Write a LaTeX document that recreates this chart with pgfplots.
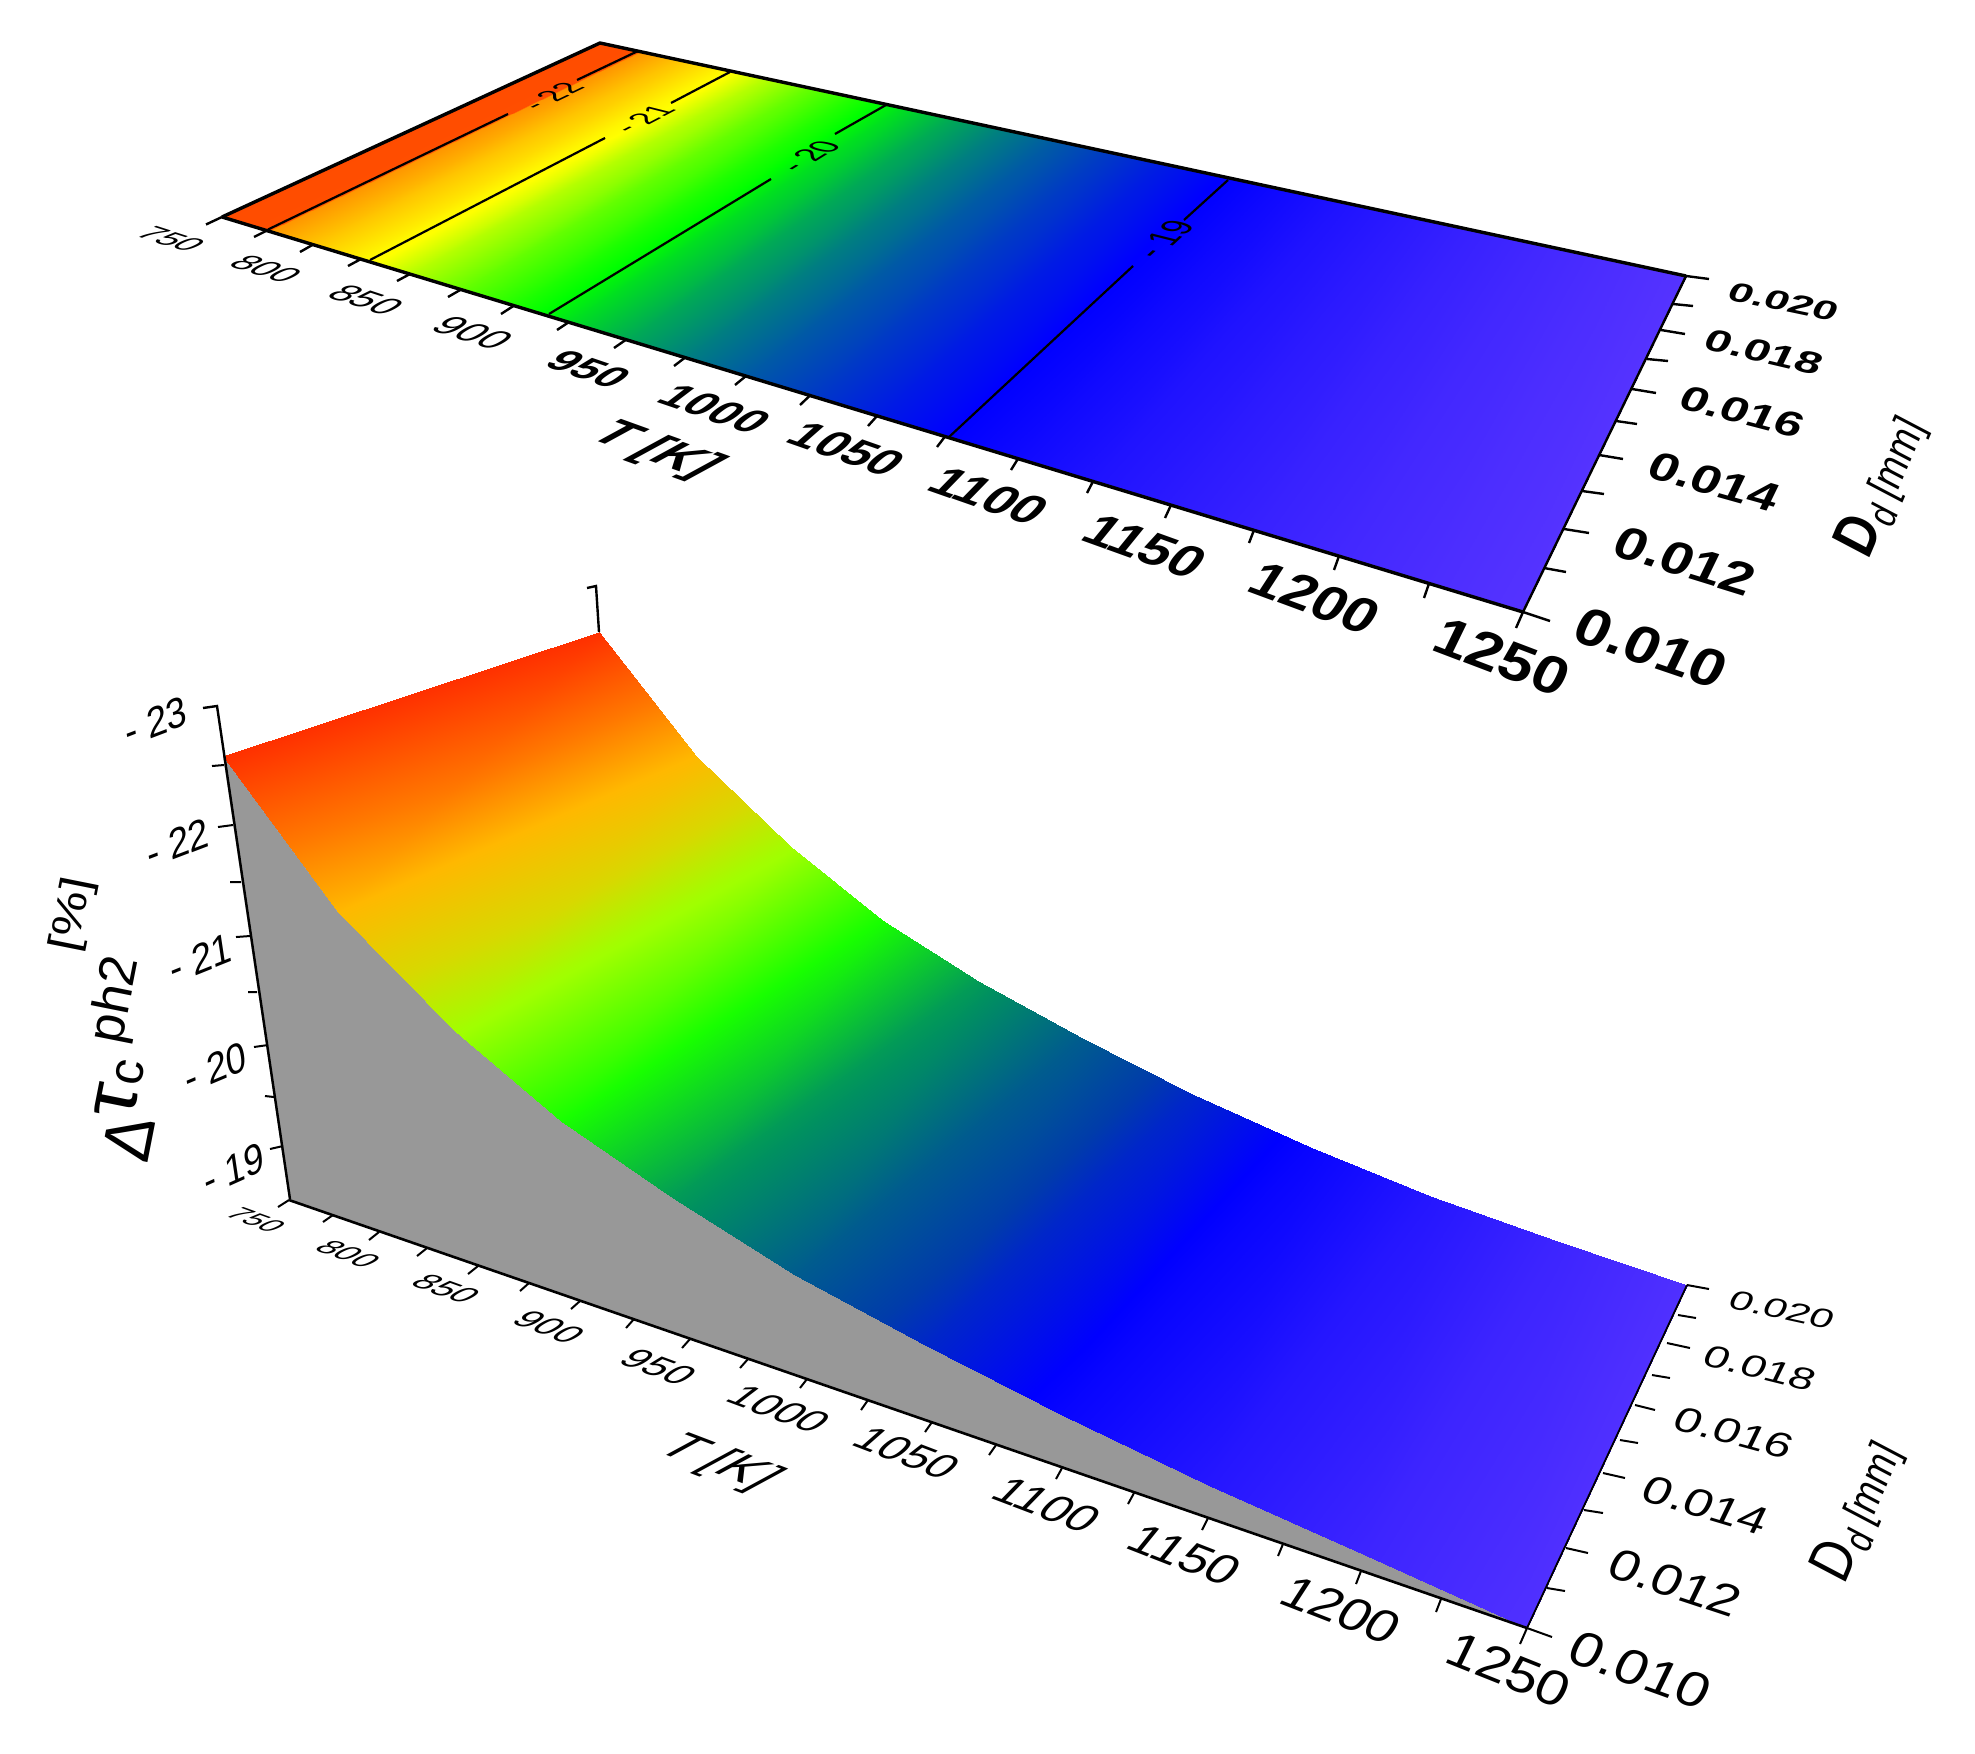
\documentclass[border=0pt]{standalone}
\usepackage{pgfplots}
\pgfplotsset{compat=1.18}
\usepgfplotslibrary{patchplots}
\usepackage{fontspec}
\setmainfont{Liberation Sans}
\newcommand\lab[9]{%
\pgfmathsetmacro\ma{#3/20*#4/veclen(#4,#5)}%
\pgfmathsetmacro\mb{-#3/20*#5/veclen(#4,#5)}%
\pgfmathsetmacro\mc{#6/20*#7/veclen(#7,#8)}%
\pgfmathsetmacro\md{-#6/20*#8/veclen(#7,#8)}%
\node[cm={\ma,\mb,\mc,\md,(0,0)},inner sep=0pt] at ({#1*0.5pt},{(1753-#2)*0.5pt}) {#9};}
\pgfplotsset{px/.style={scale only axis,width=987.5pt,height=876.5pt,xmin=0,xmax=1975,ymin=0,ymax=1753,y dir=reverse,axis lines=none,clip=false,point meta min=-23,point meta max=-18,anchor=south west,at={(0pt,0pt)}}}
\begin{document}
\begin{tikzpicture}
\path[use as bounding box] (0,0) rectangle (987.5pt,876.5pt);
% ---------- upper map
\begin{axis}[px,colormap={topmap}{rgb255(0)=(255,75,0) rgb255(98)=(255,78,0) rgb255(100)=(255,150,0) rgb255(200)=(255,255,0) rgb255(295)=(0,255,0) rgb255(400)=(0,0,255) rgb255(455)=(85,51,255) rgb255(500)=(85,51,255)}]
\addplot[patch,patch type=rectangle,mesh input=lattice,mesh/cols=2,shader=interp,point meta=explicit] table[meta=m] {
x y m
222 217 -22.58
600 43 -22.58
267 230.5 -22.02
640 51.5 -22.02
313 244.6 -21.55
680.5 60 -21.55
361 259 -21.1
722 69 -21.1
410 274 -20.72
766 79 -20.72
461 289.5 -20.42
810 88 -20.42
514 305.6 -20.16
856 98 -20.16
569 322 -19.92
903 108 -19.92
626 339.7 -19.70
952 118.5 -19.70
685 357.6 -19.52
1003 129.5 -19.52
746 376 -19.37
1055 140.6 -19.37
810 395.5 -19.24
1108 152 -19.24
877 416 -19.11
1164 164 -19.11
945 436.5 -19.0
1221 176 -19.0
1018 458.7 -18.9
1281 189 -18.9
1093 481.4 -18.8
1342 202 -18.8
1171 505 -18.72
1406 216 -18.72
1254 530 -18.64
1472 230 -18.64
1339 556 -18.57
1541 245 -18.57
1429 583.5 -18.51
1612 260 -18.51
1523 612 -18.45
1686 276 -18.45
};
% contour lines
\addplot[black,line width=1.1pt,unbounded coords=jump] table {
x y
638 51
577 80
nan nan
508 114
268 229.5
nan nan
730 72
671 103
nan nan
605 138
370 260
nan nan
886 105
835 134
nan nan
771 179
549 314
nan nan
1228 180
1184 220
nan nan
1133 266
949 437
};
% frame
\addplot[black,line width=1.7pt,line join=round] coordinates {(222,217) (600,43) (1686,276)};
\addplot[black,line width=1.7pt] coordinates {(222,217) (1523,612)};
\addplot[black,line width=1.2pt] coordinates {(1523,612) (1686,276)};
% ticks
\addplot[black,line width=1.2pt,unbounded coords=jump] table {
x y
222 217
206 224.5
nan nan
267 230.5
254 237
nan nan
313 244.6
300 252
nan nan
361 259
348 266
nan nan
410 274
397 281
nan nan
461 289.5
448 297
nan nan
514 305.6
501 314
nan nan
569 322
557 330
nan nan
626 339.7
614 348
nan nan
685 357.6
674 366
nan nan
746 376
735 385
nan nan
810 395.5
800 405
nan nan
877 416
868 426
nan nan
945 436.5
937 447
nan nan
1018 458.7
1011 470
nan nan
1093 481.4
1087 493
nan nan
1171 505
1165 518
nan nan
1254 530
1249 543
nan nan
1339 556
1334 570
nan nan
1429 583.5
1424 598
nan nan
1523 612
1516 628
nan nan
1686 276
1709 279
nan nan
1673 304
1693 306
nan nan
1661 330
1685 334
nan nan
1647 359
1668 361
nan nan
1632 389
1656 393
nan nan
1616 421
1637 424
nan nan
1599 455
1623 459
nan nan
1582 491
1604 494
nan nan
1564 529
1589 533
nan nan
1544 568
1566 572
nan nan
1523 612
1550 621
};
\end{axis}
% ---------- lower surface
\begin{axis}[px,colormap={lowmap}{rgb255(0)=(255,40,0) rgb255(42)=(255,48,0) rgb255(100)=(255,120,0) rgb255(145)=(255,184,0) rgb255(190)=(216,216,0) rgb255(230)=(160,255,0) rgb255(284)=(24,255,0) rgb255(335)=(0,144,96) rgb255(380)=(0,60,170) rgb255(405)=(0,0,255) rgb255(455)=(80,48,255) rgb255(500)=(80,48,255)}]
\addplot[fill={rgb,255:red,152;green,152;blue,152},draw=none] coordinates {(223,756) (338,912) (455,1031) (561,1121) (673,1198) (795,1275) (925,1345) (1062,1415) (1208,1485) (1365,1555) (1527,1628) (289,1200)} -- cycle;
\addplot[patch,patch type=rectangle,mesh input=lattice,mesh/cols=2,shader=interp,point meta=explicit] table[meta=m] {
x y m
223 756 -22.58
599 632 -22.58
338 912 -21.55
696 756 -21.55
455 1031 -20.72
790 846 -20.72
561 1121 -20.16
882 920 -20.16
673 1198 -19.70
978 981 -19.70
795 1275 -19.37
1082 1038 -19.37
925 1345 -19.11
1192 1094 -19.11
1062 1415 -18.90
1310 1147 -18.90
1208 1485 -18.72
1430 1196 -18.72
1365 1555 -18.57
1557 1241 -18.57
1527 1628 -18.45
1687 1285 -18.45
};
\addplot[black,line width=1.2pt] coordinates {(203,708) (217,706) (290,1199)};
\addplot[black,line width=1.2pt] coordinates {(587,588) (596,586) (599,632)};
\addplot[black,line width=1.3pt] coordinates {(289,1200) (1527,1628)};
\addplot[black,line width=0.9pt] coordinates {(1527,1628) (1687,1285)};
\addplot[black,line width=1pt,unbounded coords=jump] table {
x y
289 1200
278 1207
nan nan
333 1215
323 1222
nan nan
379 1232
369 1240
nan nan
427 1248
417 1256
nan nan
478 1266
468 1274
nan nan
529 1283
520 1291
nan nan
580 1301
571 1309
nan nan
634 1319
626 1328
nan nan
690 1339
682 1348
nan nan
748 1359
740 1368
nan nan
807 1379
800 1388
nan nan
868 1400
861 1410
nan nan
932 1422
925 1432
nan nan
996 1445
989 1455
nan nan
1062 1468
1056 1479
nan nan
1134 1493
1128 1504
nan nan
1208 1518
1202 1530
nan nan
1283 1544
1278 1556
nan nan
1361 1571
1356 1584
nan nan
1441 1599
1436 1612
nan nan
1527 1628
1520 1644
nan nan
1687 1285
1709 1289
nan nan
1678 1315
1696 1318
nan nan
1667 1343
1690 1348
nan nan
1652 1375
1670 1378
nan nan
1635 1405
1655 1410
nan nan
1620 1440
1638 1443
nan nan
1603 1473
1625 1478
nan nan
1584 1510
1603 1513
nan nan
1566 1548
1588 1553
nan nan
1547 1588
1565 1591
nan nan
1527 1628
1552 1637
nan nan
224 765
212 766
nan nan
233 825
218 827
nan nan
241 882
230 882
nan nan
250 936
236 937
nan nan
257 992
248 992
nan nan
268 1045
254 1047
nan nan
274 1097
265 1096
nan nan
283 1146
270 1149
};
\end{axis}
% ---------- text, upper
\lab{171}{239}{34}{1}{.32}{34}{378}{-174}{750}
\lab{266}{269}{36}{1}{.32}{36}{367}{-185}{800}
\lab{366}{300}{38}{1}{.33}{38}{356}{-195}{850}
\lab{473}{333}{41}{1}{.33}{40}{342}{-208}{900}
\lab{589}{369}{44}{1}{.34}{42}{326}{-222}{\bfseries 950}
\lab{715}{409}{46}{1}{.34}{44}{309}{-235}{\bfseries 1000}
\lab{847}{449}{49}{1}{.35}{46}{287}{-252}{\bfseries 1050}
\lab{989}{496}{52}{1}{.35}{48}{263}{-270}{\bfseries 1100}
\lab{1145}{546}{55}{1}{.36}{50}{235}{-289}{\bfseries 1150}
\lab{1315}{598}{58}{1}{.37}{52}{202}{-311}{\bfseries 1200}
\lab{1502}{657}{62}{1}{.38}{54}{163}{-336}{\bfseries 1250}
\lab{1784}{302}{44}{1}{.21}{28}{163}{-336}{\bfseries 0.020}
\lab{1764}{352}{47}{1}{.235}{32}{163}{-336}{\bfseries 0.018}
\lab{1742}{412}{50}{1}{.26}{36}{163}{-336}{\bfseries 0.016}
\lab{1714}{482}{53}{1}{.28}{41}{163}{-336}{\bfseries 0.014}
\lab{1685}{561}{57}{1}{.31}{47}{163}{-336}{\bfseries 0.012}
\lab{1651}{648}{62}{1}{.34}{54}{163}{-336}{\bfseries 0.010}
\lab{655}{451}{52}{1}{.36}{50}{309}{-235}{\bfseries\itshape T [K]}
\lab{1882}{487}{36}{.39}{-.92}{44}{-.95}{-.32}{\itshape{\fontsize{14}{14}\selectfont\bfseries D}\raisebox{-.4ex}{\small d} [mm]}
\lab{551.5}{96}{30}{370}{-178}{34}{-1}{-.25}{- 22}
\lab{643}{119}{30}{360}{-188}{34}{-1}{-.25}{- 21}
\lab{809}{156}{30}{337}{-209}{36}{-1}{-.25}{- 20}
\lab{1164}{239}{30}{279}{-257}{40}{-1}{-.25}{- 19}
% ---------- text, lower
\lab{256}{1220}{30}{1}{.36}{30}{378}{-174}{750}
\lab{348}{1254}{33}{1}{.36}{32}{367}{-185}{800}
\lab{446}{1289}{35}{1}{.36}{34}{356}{-195}{850}
\lab{549}{1327}{37}{1}{.37}{36}{342}{-208}{900}
\lab{659}{1367}{40}{1}{.37}{38}{326}{-222}{950}
\lab{779}{1409}{43}{1}{.37}{40}{309}{-235}{1000}
\lab{907}{1453}{45}{1}{.38}{42}{287}{-252}{1050}
\lab{1047}{1505}{48}{1}{.38}{44}{263}{-270}{1100}
\lab{1185}{1555}{51}{1}{.39}{46}{235}{-289}{1150}
\lab{1341}{1610}{54}{1}{.39}{48}{202}{-311}{1200}
\lab{1509}{1670}{57}{1}{.40}{50}{163}{-336}{1250}
\lab{1782}{1310}{42}{1}{.22}{28}{163}{-336}{0.020}
\lab{1760}{1368}{45}{1}{.25}{32}{163}{-336}{0.018}
\lab{1734}{1433}{48}{1}{.27}{36}{163}{-336}{0.016}
\lab{1706}{1505}{51}{1}{.30}{40}{163}{-336}{0.014}
\lab{1675}{1583}{54}{1}{.33}{45}{163}{-336}{0.012}
\lab{1640}{1670}{58}{1}{.36}{50}{163}{-336}{0.010}
\lab{718}{1463}{52}{1}{.38}{50}{309}{-235}{\itshape T [K]}
\lab{1858}{1512}{36}{.39}{-.92}{44}{-.95}{-.32}{\itshape{\fontsize{14}{14}\selectfont D}\raisebox{-.4ex}{\small d} [mm]}
\lab{156}{721.5}{38}{1}{-.38}{42}{-.15}{-1}{- 23}
\lab{178}{843}{38}{1}{-.38}{42}{-.15}{-1}{- 22}
\lab{201}{958}{38}{1}{-.4}{42}{-.15}{-1}{- 21}
\lab{216}{1068}{38}{1}{-.42}{42}{-.15}{-1}{- 20}
\lab{234}{1169}{38}{1}{-.45}{42}{-.15}{-1}{- 19}
\lab{129}{1138}{66}{56}{-285}{68}{-1}{-.2}{Δ}
\lab{117}{1101}{85}{56}{-285}{75}{-1}{-.2}{τ}
\lab{130}{1073}{50}{56}{-285}{50}{-1}{-.2}{c}
\lab{117}{1000}{52}{56}{-285}{52}{-1}{-.2}{ph2}
\lab{73}{915}{52}{56}{-285}{42}{-1}{-.2}{[\%]}
\end{tikzpicture}
\end{document}
